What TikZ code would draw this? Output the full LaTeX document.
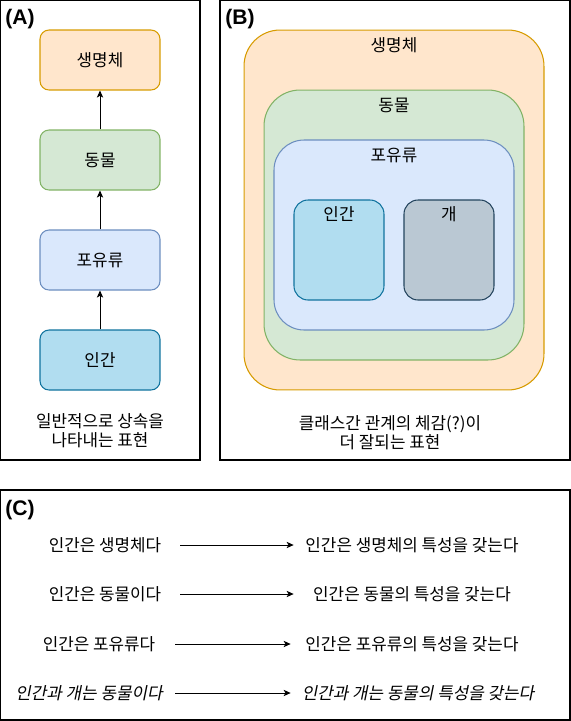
\documentclass[tikz,border=0pt]{standalone}
\usepackage{fontspec}
\setmainfont{Noto Sans CJK KR}
\newfontfamily\tagfont{Liberation Sans}
\newfontfamily\slantfont[FakeSlant=0.2]{Noto Sans CJK KR}
\usetikzlibrary{positioning}
\usetikzlibrary{arrows.meta}

\definecolor{lifeFill}{HTML}{FFE6CC}
\definecolor{lifeLine}{HTML}{D79B00}
\definecolor{animalFill}{HTML}{D5E8D4}
\definecolor{animalLine}{HTML}{82B366}
\definecolor{mammalFill}{HTML}{DAE8FC}
\definecolor{mammalLine}{HTML}{6C8EBF}
\definecolor{humanFill}{HTML}{B1DDF0}
\definecolor{humanLine}{HTML}{10739E}
\definecolor{dogFill}{HTML}{BAC8D3}
\definecolor{dogLine}{HTML}{23445D}

\newcommand{\kfont}{\fontsize{9.6}{11}\selectfont}
\newcommand{\tagsize}{\tagfont\bfseries\fontsize{12}{14}\selectfont}

\tikzset{
  panel/.style={draw=black,line width=0.6pt},
  clsbox/.style={draw,line width=0.6pt,minimum width=2.4cm,minimum height=1.2cm,rounded corners=0.18cm,font=\kfont},
  groupbox/.style={draw,line width=0.6pt,inner sep=0pt},
  lbl/.style={font=\kfont,inner sep=0pt},
  note/.style={font=\kfont,align=center,inner sep=0pt},
  tag/.style={font=\tagsize,anchor=west,inner sep=0pt},
  stmt/.style={font=\kfont,inner sep=0pt,minimum height=0.4cm},
  conn/.style={line width=0.55pt,-{Stealth[length=4pt,width=3.6pt,inset=1pt]}}
}

\begin{document}
\begin{tikzpicture}[x=0.02cm,y=-0.02cm]
\useasboundingbox (0,0) rectangle (571,721);

% panels
\draw[panel] (0.5,0.5) rectangle (200,460);
\draw[panel] (220,0.5) rectangle (570,460);
\draw[panel] (0.5,490) rectangle (570,720);
\node[tag] (tagA) at (5,19) {(A)};
\node[tag] (tagB) at (225,19) {(B)};
\node[tag] (tagC) at (5,510) {(C)};

% (A)
\node[clsbox,fill=lifeFill,draw=lifeLine] (lifeA) at (100,60) {생명체};
\node[clsbox,fill=animalFill,draw=animalLine] (animalA) at (100,160) {동물};
\node[clsbox,fill=mammalFill,draw=mammalLine] (mammalA) at (100,260) {포유류};
\node[clsbox,fill=humanFill,draw=humanLine] (humanA) at (100,360) {인간};
\draw[conn] (humanA) -- (mammalA);
\draw[conn] (mammalA) -- (animalA);
\draw[conn] (animalA) -- (lifeA);
\node[note] (noteA) at (100,431) {일반적으로 상속을\\나타내는 표현};

% (B)
\node[groupbox,fill=lifeFill,draw=lifeLine,minimum width=6cm,minimum height=7.2cm,rounded corners=0.72cm] (lifeB) at (394,210) {};
\node[groupbox,fill=animalFill,draw=animalLine,minimum width=5.2cm,minimum height=5.4cm,rounded corners=0.72cm] (animalB) at (394,225) {};
\node[groupbox,fill=mammalFill,draw=mammalLine,minimum width=4.8cm,minimum height=3.8cm,rounded corners=0.6cm] (mammalB) at (394,235) {};
\node[groupbox,fill=humanFill,draw=humanLine,minimum width=1.8cm,minimum height=2cm,rounded corners=0.28cm] (humanB) at (339,250) {};
\node[groupbox,fill=dogFill,draw=dogLine,minimum width=1.8cm,minimum height=2cm,rounded corners=0.28cm] (dogB) at (449,250) {};
\node[lbl] (lifeBtxt) at (394,45) {생명체};
\node[lbl] (animalBtxt) at (394,105) {동물};
\node[lbl] (mammalBtxt) at (394,155) {포유류};
\node[lbl] (humanBtxt) at (339,214) {인간};
\node[lbl] (dogBtxt) at (449,214) {개};
\node[note] (noteB) at (390,433) {클래스간 관계의 체감(?)이\\더 잘되는 표현};

% (C)
\node[stmt,minimum width=3cm] (isLife) at (105,545) {인간은 생명체다};
\node[stmt,minimum width=4.72cm] (hasLife) at (412,545) {인간은 생명체의 특성을 갖는다};
\node[stmt,minimum width=3cm] (isAnimal) at (105,594) {인간은 동물이다};
\node[stmt,minimum width=4.72cm] (hasAnimal) at (412,594) {인간은 동물의 특성을 갖는다};
\node[stmt,minimum width=3.04cm] (isMammal) at (99,644) {인간은 포유류다};
\node[stmt,minimum width=4.84cm] (hasMammal) at (412,644) {인간은 포유류의 특성을 갖는다};
\node[stmt,minimum width=3.44cm,font=\slantfont\kfont] (bothAnimal) at (89,693) {인간과 개는 동물이다};
\node[stmt,minimum width=5.08cm,font=\slantfont\kfont] (bothHas) at (418,693) {인간과 개는 동물의 특성을 갖는다};
\draw[conn] (isLife) -- (hasLife);
\draw[conn] (isAnimal) -- (hasAnimal);
\draw[conn] (isMammal) -- (hasMammal);
\draw[conn] (bothAnimal) -- (bothHas);

\end{tikzpicture}
\end{document}
